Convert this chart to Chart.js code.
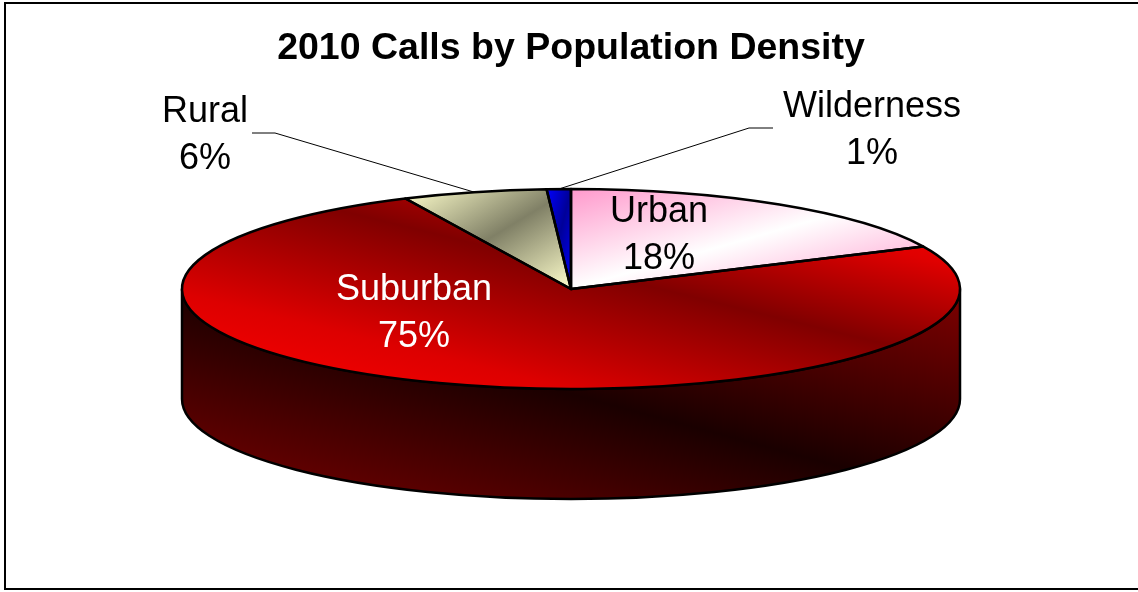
<!DOCTYPE html>
<html>
<head>
<meta charset="utf-8">
<title>2010 Calls by Population Density</title>
<script src="https://cdn.jsdelivr.net/npm/chart.js@4.4.1/dist/chart.umd.min.js"></script>
<style>
  html, body { margin: 0; padding: 0; background: #fff; overflow: hidden; }
  #frame { position: absolute; left: 4px; top: 2px; width: 1140px; height: 584px; border: 2px solid #000; }
  #calls-chart { position: absolute; left: 0; top: 0; }
</style>
</head>
<body>
<div id="frame"></div>
<canvas id="calls-chart" width="1138" height="592"></canvas>
<script>
const chartTitle = "2010 Calls by Population Density";
const categories = ["Urban", "Suburban", "Rural", "Wilderness"];
const callShares = [18, 75, 6, 1];

const FONT = "'Liberation Sans', Arial, sans-serif";
const TILT = 100 / 389;   // how flat the pie top is
const LINE_GAP = 47;
const EDGE = 2.5;

// fills: diagonal gradients over each slice's box ("up" runs bottom-left -> top-right)
const topFills = [
  { up: false, stops: [[0, '#ff99cc'], [0.5, '#ffffff'], [1, '#ff99cc']] },
  { up: true,  stops: [[0, '#ff0000'], [0.25, '#dd0000'], [0.57, '#800000'], [0.82, '#e00000'], [1, '#ff0000']] },
  { up: false, stops: [[0, '#ffffcc'], [0.5, '#808066'], [1, '#ffffcc']] },
  { up: false, stops: [[0, '#0000ff'], [0.5, '#000099'], [1, '#0000ff']] }
];
const sideFills = [
  { up: true, stops: [[0, '#996677'], [0.5, '#332233'], [1, '#996677']] },
  { up: true, stops: [[0, '#7a0000'], [0.5, '#1a0000'], [1, '#800000']] },
  { up: true, stops: [[0, '#808066'], [0.5, '#2a2a20'], [1, '#808066']] },
  { up: true, stops: [[0, '#000099'], [0.5, '#000033'], [1, '#000099']] }
];

// text spots (centre x, first baseline) and optional leader elbows
const labelSpots = [
  { x: 659, y: 222, color: '#000' },
  { x: 414, y: 300, color: '#fff' },
  { x: 205, y: 122, color: '#000', leader: [[252, 133], [275, 133]] },
  { x: 872, y: 117, color: '#000', leader: [[773, 128], [749, 128]] }
];

function pieFrame(chart) {
  const a = chart.chartArea;
  const rx = (a.right - a.left) / 2;
  const ry = rx * TILT;
  return { cx: (a.left + a.right) / 2, cy: a.top + ry, rx: rx, ry: ry, depth: a.bottom - a.top - 2 * ry };
}

function onEllipse(f, t, dy) {
  return [f.cx + f.rx * Math.cos(t), f.cy + (dy || 0) + f.ry * Math.sin(t)];
}

function boxOf(pts) {
  const xs = pts.map(p => p[0]), ys = pts.map(p => p[1]);
  return { l: Math.min(...xs), r: Math.max(...xs), t: Math.min(...ys), b: Math.max(...ys) };
}

function quarterPoints(f, s, e, dy) {
  const pts = [];
  for (let k = Math.ceil(s / (Math.PI / 2)); k * Math.PI / 2 < e; k++) pts.push(onEllipse(f, k * Math.PI / 2, dy));
  return pts;
}

// gradient ends on screen for a diagonal across box
function diagEnds(box, up) {
  const w = box.r - box.l, h = box.b - box.t;
  const k = 2 * w * h / (w * w + h * h || 1);
  if (up) return [[box.l, box.b], [box.l + k * h, box.b - k * w]];
  return [[box.l, box.t], [box.l + k * h, box.t + k * w]];
}

function addStops(g, stops) {
  stops.forEach(s => g.addColorStop(s[0], s[1]));
  return g;
}

// same screen gradient, expressed in the unsquashed arc space
function gradientInArcSpace(ctx, m, p0, p1, stops) {
  const q0 = [(p0[0] - m.tx) / m.sx, (p0[1] - m.ty) / m.sy];
  const d = [p1[0] - p0[0], p1[1] - p0[1]];
  const dd = d[0] * d[0] + d[1] * d[1];
  const g = [m.sx * d[0] / dd, m.sy * d[1] / dd];
  const gg = g[0] * g[0] + g[1] * g[1];
  return addStops(ctx.createLinearGradient(q0[0], q0[1], q0[0] + g[0] / gg, q0[1] + g[1] / gg), stops);
}

function frontParts(s, e) {
  const parts = [];
  [-2 * Math.PI, 0, 2 * Math.PI].forEach(base => {
    const a = Math.max(s, base), b = Math.min(e, base + Math.PI);
    if (b > a) parts.push([a, b]);
  });
  return parts;
}

function sidePath(ctx, f, a, b) {
  ctx.beginPath();
  ctx.ellipse(f.cx, f.cy, f.rx, f.ry, 0, a, b);
  ctx.ellipse(f.cx, f.cy + f.depth, f.rx, f.ry, 0, b, a, true);
  ctx.closePath();
}

const pie3d = {
  id: 'pie3d',
  beforeDatasetsDraw(chart) {
    const ctx = chart.ctx;
    const f = pieFrame(chart);
    const arcs = chart.getDatasetMeta(0).data;
    const r = arcs[0].outerRadius;
    const m = { sx: f.rx / r, sy: f.ry / r };
    m.tx = f.cx - arcs[0].x * m.sx;
    m.ty = f.cy - arcs[0].y * m.sy;

    // side wall
    arcs.forEach((arc, i) => {
      frontParts(arc.startAngle, arc.endAngle).forEach(([a, b]) => {
        const pts = [onEllipse(f, a), onEllipse(f, b), onEllipse(f, a, f.depth), onEllipse(f, b, f.depth)]
          .concat(quarterPoints(f, a, b), quarterPoints(f, a, b, f.depth));
        const ends = diagEnds(boxOf(pts), sideFills[i].up);
        ctx.save();
        sidePath(ctx, f, a, b);
        ctx.fillStyle = addStops(ctx.createLinearGradient(ends[0][0], ends[0][1], ends[1][0], ends[1][1]), sideFills[i].stops);
        ctx.fill();
        ctx.lineWidth = EDGE;
        ctx.strokeStyle = '#000';
        ctx.lineJoin = 'round';
        ctx.stroke();
        ctx.restore();
      });
    });

    // top fills
    arcs.forEach((arc, i) => {
      const pts = [[f.cx, f.cy], onEllipse(f, arc.startAngle), onEllipse(f, arc.endAngle)]
        .concat(quarterPoints(f, arc.startAngle, arc.endAngle));
      const ends = diagEnds(boxOf(pts), topFills[i].up);
      arc.options.backgroundColor = gradientInArcSpace(ctx, m, ends[0], ends[1], topFills[i].stops);
    });

    ctx.save();
    ctx.translate(m.tx, m.ty);
    ctx.scale(m.sx, m.sy);
  },
  afterDatasetsDraw(chart) {
    const ctx = chart.ctx;
    ctx.restore();
    const f = pieFrame(chart);
    const arcs = chart.getDatasetMeta(0).data;
    const total = callShares.reduce((s, v) => s + v, 0);

    ctx.save();
    ctx.lineWidth = EDGE;
    ctx.strokeStyle = '#000';
    ctx.lineJoin = 'round';
    arcs.forEach(arc => {
      const p = onEllipse(f, arc.startAngle);
      ctx.beginPath();
      ctx.moveTo(f.cx, f.cy);
      ctx.lineTo(p[0], p[1]);
      ctx.ellipse(f.cx, f.cy, f.rx, f.ry, 0, arc.startAngle, arc.endAngle);
      ctx.closePath();
      ctx.stroke();
    });

    // labels
    ctx.font = '36px ' + FONT;
    ctx.textAlign = 'center';
    ctx.textBaseline = 'alphabetic';
    arcs.forEach((arc, i) => {
      const spot = labelSpots[i];
      if (spot.leader) {
        const mid = onEllipse(f, (arc.startAngle + arc.endAngle) / 2);
        ctx.beginPath();
        ctx.lineWidth = 1;
        ctx.moveTo(spot.leader[0][0], spot.leader[0][1]);
        ctx.lineTo(spot.leader[1][0], spot.leader[1][1]);
        ctx.lineTo(mid[0], mid[1]);
        ctx.stroke();
      }
      ctx.fillStyle = spot.color;
      ctx.fillText(categories[i], spot.x, spot.y);
      ctx.fillText(Math.round(callShares[i] / total * 100) + '%', spot.x, spot.y + LINE_GAP);
    });
    ctx.restore();
  }
};

new Chart(document.getElementById('calls-chart'), {
  type: 'pie',
  data: {
    labels: categories,
    datasets: [{
      data: callShares,
      backgroundColor: ['#ffccee', '#cc0000', '#dddd99', '#0000cc'],
      borderWidth: 0,
      clip: false
    }]
  },
  options: {
    responsive: false,
    animation: false,
    devicePixelRatio: 1,
    events: [],
    layout: { padding: { left: 182, right: 178, top: 0, bottom: 93 } },
    plugins: {
      legend: { display: false },
      tooltip: { enabled: false },
      title: {
        display: true,
        text: chartTitle,
        color: '#000',
        font: { family: FONT, size: 37.5, weight: 'bold', lineHeight: 1.2 },
        padding: { top: 26.5, bottom: 117.5 }
      }
    }
  },
  plugins: [pie3d]
});
</script>
</body>
</html>
